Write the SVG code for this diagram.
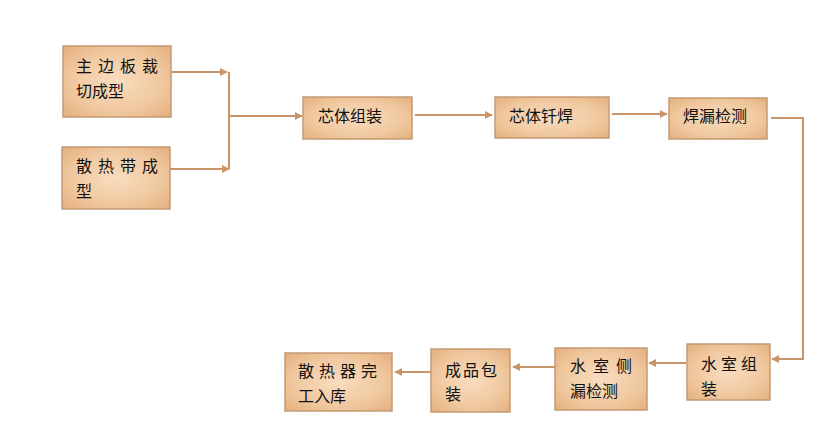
<svg xmlns="http://www.w3.org/2000/svg" width="834" height="442" viewBox="0 0 834 442">
<defs>
<radialGradient id="g" cx="50%" cy="50%" r="70%">
<stop offset="0" stop-color="#f8dcbf"/>
<stop offset="0.6" stop-color="#f0c89f"/>
<stop offset="1" stop-color="#e4af7d"/>
</radialGradient>
<marker id="ah" viewBox="0 0 10 10" refX="9" refY="5" markerWidth="8" markerHeight="8" markerUnits="userSpaceOnUse" orient="auto">
<path d="M0,0 L10,5 L0,10 z" fill="#c8946a"/>
</marker>
<style>
.box{fill:url(#g);stroke:#c59b74;stroke-width:1.5}
.t{font-family:"Noto Sans CJK SC","Noto Sans",sans-serif;font-size:16px;fill:#111}
.c{fill:none;stroke:#c8946a;stroke-width:2}
</style>
</defs>
<rect width="834" height="442" fill="#fff"/>
<g id="connectors">
<path class="c" d="M171,72 H227" marker-end="url(#ah)"/>
<path class="c" d="M170,169 H229" marker-end="url(#ah)"/>
<path class="c" d="M229,72 V169"/>
<path class="c" d="M229,116 H302" marker-end="url(#ah)"/>
<path class="c" d="M415,115 H492" marker-end="url(#ah)"/>
<path class="c" d="M612,114 H667" marker-end="url(#ah)"/>
<path class="c" d="M771,118 H803 V359 H772" marker-end="url(#ah)"/>
<path class="c" d="M686,363 H649" marker-end="url(#ah)"/>
<path class="c" d="M555,367 H513" marker-end="url(#ah)"/>
<path class="c" d="M431,372 H395" marker-end="url(#ah)"/>
</g>
<g id="n1"><rect class="box" x="63" y="46" width="108" height="71"/>
<text class="t" x="76" y="72" letter-spacing="6">主边板裁</text><text class="t" x="76" y="97">切成型</text></g>
<g id="n2"><rect class="box" x="62" y="147" width="108" height="62"/>
<text class="t" x="76" y="172" letter-spacing="6">散热带成</text><text class="t" x="76" y="197">型</text></g>
<g id="n3"><rect class="box" x="303" y="97" width="109" height="42"/>
<text class="t" x="318" y="122">芯体组装</text></g>
<g id="n4"><rect class="box" x="495" y="97" width="114" height="41"/>
<text class="t" x="509" y="122">芯体钎焊</text></g>
<g id="n5"><rect class="box" x="669" y="98" width="98" height="41"/>
<text class="t" x="683" y="122">焊漏检测</text></g>
<g id="n6"><rect class="box" x="687" y="344" width="83" height="56"/>
<text class="t" x="701" y="370" letter-spacing="4">水室组</text><text class="t" x="701" y="395">装</text></g>
<g id="n7"><rect class="box" x="555" y="348" width="92" height="62"/>
<text class="t" x="570" y="372" letter-spacing="7">水室侧</text><text class="t" x="570" y="397">漏检测</text></g>
<g id="n8"><rect class="box" x="431" y="349" width="79" height="63"/>
<text class="t" x="445" y="376" letter-spacing="2">成品包</text><text class="t" x="445" y="400">装</text></g>
<g id="n9"><rect class="box" x="285" y="353" width="107" height="58"/>
<text class="t" x="298" y="377" letter-spacing="5">散热器完</text><text class="t" x="298" y="402">工入库</text></g>
</svg>
